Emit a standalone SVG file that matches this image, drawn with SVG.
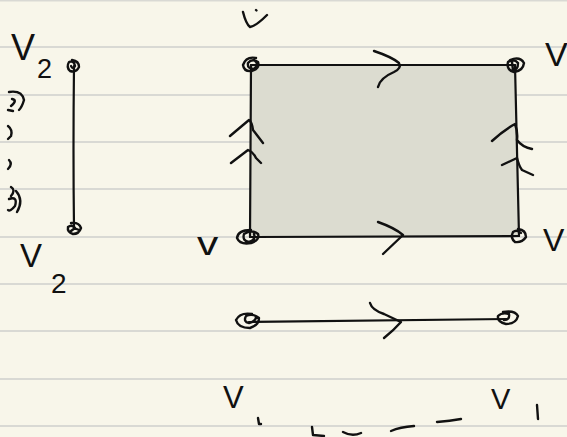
<svg xmlns="http://www.w3.org/2000/svg" width="567" height="437" viewBox="0 0 567 437">
<style>
.rule{stroke:#d9d9d4;stroke-width:2}
.ink{fill:none;stroke:#111;stroke-width:2.4;stroke-linecap:round;stroke-linejoin:round}
.edge{fill:none;stroke:#111;stroke-width:2.2;stroke-linecap:round}
.lbl{font-family:"Liberation Sans","DejaVu Sans",sans-serif;font-weight:400;fill:#111}
</style>
<rect width="567" height="437" fill="#f8f6ea"/>
<g id="rules">
<line class="rule" x1="0" y1="0.5" x2="567" y2="0.5"/>
<line class="rule" x1="0" y1="47" x2="567" y2="47"/>
<line class="rule" x1="0" y1="95" x2="567" y2="95"/>
<line class="rule" x1="0" y1="142" x2="567" y2="142"/>
<line class="rule" x1="0" y1="189" x2="567" y2="189"/>
<line class="rule" x1="0" y1="237" x2="567" y2="237"/>
<line class="rule" x1="0" y1="284" x2="567" y2="284"/>
<line class="rule" x1="0" y1="331" x2="567" y2="331"/>
<line class="rule" x1="0" y1="379" x2="567" y2="379"/>
<line class="rule" x1="0" y1="426" x2="567" y2="426"/>
</g>
<g id="face">
<path d="M251,65 L515,65 L519,236 L250,237 Z" fill="#dcdcd0" stroke="none"/>
</g>
<g id="connectors">
<path class="edge" d="M251,65 L515,65"/>
<path class="edge" d="M251,65 L250,237"/>
<path class="edge" d="M515,65 L519,236"/>
<path class="edge" d="M250,237 L519,236"/>
<path class="edge" d="M74,66 Q73,150 74,228"/>
<path class="edge" d="M249,322 L507,319"/>
<path class="ink" d="M374,51 Q392,57 399,63 Q402,68 394,72 Q380,78 378,87"/>
<path class="ink" d="M378,222 Q395,228 403,235 L383,254"/>
<path class="ink" d="M370,303 Q372,310 384,314 L401,322 Q394,330 384,338"/>
<path class="ink" d="M230,136 L249,120 Q252,122 253,130 L263,143"/>
<path class="ink" d="M231,163 L248,150 Q253,152 256,158 L261,163"/>
<path class="ink" d="M492,141 Q504,130 515,124 Q518,132 517,140 Q522,147 532,149"/>
<path class="ink" d="M502,165 L517,158 Q519,166 522,170 L533,175"/>
</g>
<g id="node-tl"><path class="ink" d="M256,58 Q246,56 243,65 Q244,72 252,71 Q260,68 258,62 Q252,58 248,63 Q247,69 254,69 Q260,64 254,60"/></g>
<g id="node-tr"><path class="ink" d="M510,60 Q520,56 524,63 Q523,71 514,72 Q506,70 508,62 Q514,58 518,63 Q518,70 513,70 L512,62"/></g>
<g id="node-bl"><path class="ink" d="M251,230 Q238,230 237,238 Q240,245 251,243 Q260,240 258,234 Q252,229 244,234 Q242,241 249,242 Q256,240 254,234"/></g>
<g id="node-br"><path class="ink" d="M518,229 Q526,230 526,237 Q522,243 515,242 Q510,238 513,232 Q517,229 521,233"/></g>
<g id="node-l1"><path class="ink" d="M72,60 Q79,61 79,67 Q76,73 70,71 Q66,67 69,62 Q74,60 75,66 Q73,70 71,66"/></g>
<g id="node-l2"><path class="ink" d="M71,223 Q79,222 81,228 Q79,234 73,234 Q67,232 68,227 Q72,224 75,228 L71,231 M74,228 L79,230"/></g>
<g id="node-b1"><path class="ink" d="M252,314 Q240,312 236,320 Q238,328 250,328 Q259,325 259,318 Q253,313 246,316 Q243,322 249,323 Q256,321 256,317"/></g>
<g id="node-b2"><path class="ink" d="M503,312 Q515,310 518,316 Q516,324 506,324 Q497,322 498,316 Q502,312 509,314 Q510,320 504,320"/></g>
<g id="labels">
<text class="lbl" x="11" y="60" font-size="36">V</text>
<text class="lbl" x="37" y="78" font-size="27">2</text>
<text class="lbl" x="20" y="267" font-size="33">V</text>
<text class="lbl" x="51" y="293" font-size="28">2</text>
<text class="lbl" x="545" y="66" font-size="34">V</text>
<text class="lbl" x="197" y="255" font-size="34" transform="translate(197 255) scale(1.25 1) translate(-197 -255)">v</text>
<text class="lbl" x="543" y="251" font-size="32">V</text>
<text class="lbl" x="223" y="408" font-size="31">V</text>
<text class="lbl" x="491" y="409" font-size="29">V</text>
</g>
<g id="marks">
<path class="ink" d="M243,12 Q246,24 250,27 Q256,26 267,15"/>
<path class="ink" d="M256,10 L256.5,10.5"/>
<path class="ink" d="M9,92 Q22,90 24,100 Q22,107 19,110 M12,99 Q18,100 11,106 M8,110 L13,111"/>
<path class="ink" d="M8,126 Q13,130 11,136 L8,139"/>
<path class="ink" d="M9,160 Q13,164 8,169"/>
<path class="ink" d="M11,187 Q16,190 11,196 M9,199 Q18,196 15,206 Q10,212 8,210 M16,191 Q24,200 17,212"/>
<path class="ink" d="M258,418 L259,424 L261,424"/>
<path class="ink" d="M537,405 L538,419"/>
<path class="ink" d="M312,427 L313,435 L324,436"/>
<path class="ink" d="M343,432 Q352,437 361,433"/>
<path class="ink" d="M391,431 Q400,427 414,426"/>
<path class="ink" d="M437,422 Q450,421 461,419"/>
</g>
</svg>
